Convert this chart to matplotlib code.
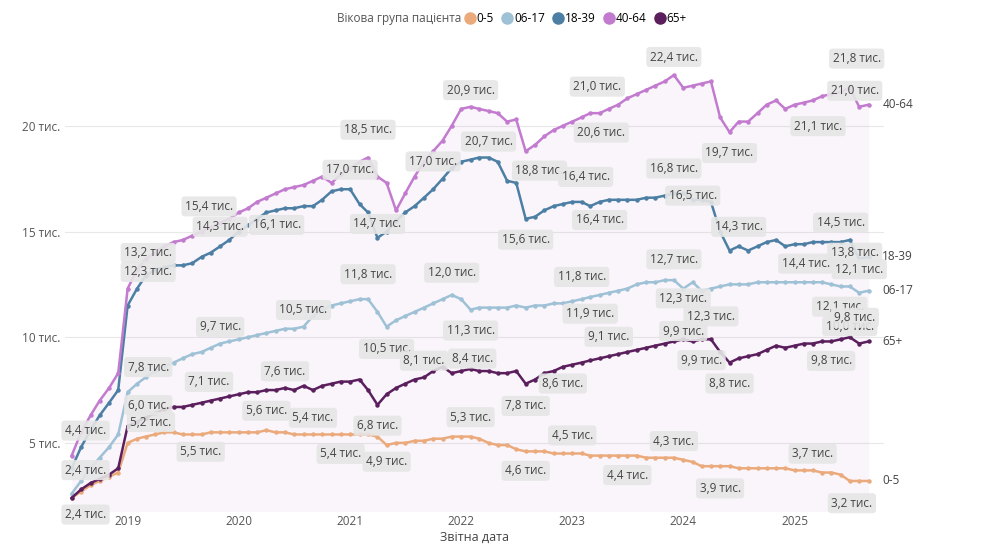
import matplotlib.pyplot as plt
import matplotlib.dates as mdates
import pandas as pd

plt.rcParams['font.family'] = ['Open Sans', 'DejaVu Sans']

months = pd.date_range('2018-07-01', '2025-09-01', freq='MS')

age_40_64 = [4.4, 5.5, 6.3, 7.0, 7.6, 8.3,
             12.3, 13.2, 13.7, 14.0, 14.3, 14.5, 14.6, 14.8, 15.0, 15.2, 15.4, 15.6,
             15.9, 16.1, 16.4, 16.6, 16.8, 17.0, 17.1, 17.2, 17.4, 17.6, 17.3, 17.7,
             18.0, 18.3, 18.5, 17.6, 17.3, 16.0, 16.8, 17.6, 18.3, 18.8, 19.3, 20.0,
             20.8, 20.9, 20.8, 20.7, 20.6, 20.2, 20.3, 18.8, 19.1, 19.5, 19.8, 20.0,
             20.2, 20.4, 20.6, 20.6, 20.8, 21.0, 21.3, 21.5, 21.7, 21.9, 22.1, 22.4,
             21.8, 21.9, 22.0, 22.1, 20.4, 19.7, 20.2, 20.2, 20.6, 21.0, 21.2, 20.8,
             21.0, 21.1, 21.2, 21.4, 21.5, 21.6, 21.8, 20.9, 21.0]
age_18_39 = [3.8, 4.8, 5.6, 6.3, 6.9, 7.5,
             11.5, 12.3, 12.9, 13.2, 13.3, 13.4, 13.4, 13.5, 13.8, 14.0, 14.3, 14.6,
             15.0, 15.3, 15.6, 15.9, 16.0, 16.1, 16.1, 16.2, 16.2, 16.5, 16.9, 17.0,
             17.0, 16.3, 15.9, 14.7, 15.0, 15.5, 15.9, 16.2, 16.6, 17.0, 17.5, 18.0,
             18.3, 18.4, 18.5, 18.5, 18.3, 17.4, 17.3, 15.6, 15.7, 16.0, 16.2, 16.3,
             16.4, 16.4, 16.2, 16.4, 16.5, 16.5, 16.5, 16.5, 16.6, 16.6, 16.7, 16.8,
             16.8, 16.5, 16.5, 16.4, 15.0, 14.1, 14.3, 14.1, 14.3, 14.5, 14.6, 14.3,
             14.4, 14.4, 14.5, 14.5, 14.5, 14.5, 14.6, 13.7, 13.8]
age_06_17 = [2.6, 3.2, 3.8, 4.3, 4.8, 5.4,
             7.4, 7.8, 8.1, 8.4, 8.6, 8.8, 9.0, 9.2, 9.3, 9.5, 9.7, 9.8,
             9.9, 10.0, 10.1, 10.2, 10.3, 10.4, 10.4, 10.5, 11.0, 11.3, 11.5, 11.6,
             11.7, 11.8, 11.8, 11.2, 10.5, 10.8, 11.0, 11.2, 11.4, 11.6, 11.8, 12.0,
             11.8, 11.3, 11.4, 11.4, 11.4, 11.4, 11.5, 11.4, 11.5, 11.5, 11.6, 11.6,
             11.7, 11.8, 11.9, 12.0, 12.1, 12.2, 12.3, 12.5, 12.6, 12.6, 12.7, 12.7,
             12.3, 12.6, 12.2, 12.3, 12.4, 12.5, 12.5, 12.5, 12.6, 12.6, 12.6, 12.6,
             12.6, 12.6, 12.6, 12.6, 12.5, 12.4, 12.4, 12.1, 12.2]
age_65 = [2.4, 2.8, 3.1, 3.3, 3.5, 3.8,
          5.8, 6.0, 6.2, 6.4, 6.6, 6.7, 6.7, 6.8, 6.9, 7.0, 7.1, 7.2,
          7.3, 7.4, 7.4, 7.5, 7.5, 7.6, 7.5, 7.7, 7.5, 7.7, 7.8, 7.9,
          7.9, 8.0, 7.5, 6.8, 7.3, 7.6, 7.8, 8.0, 8.1, 8.4, 8.6, 8.3,
          8.4, 8.5, 8.4, 8.4, 8.3, 8.3, 8.4, 7.8, 8.0, 8.3, 8.4, 8.6,
          8.7, 8.8, 8.9, 9.0, 9.1, 9.2, 9.3, 9.4, 9.5, 9.6, 9.7, 9.8,
          9.9, 9.8, 9.9, 9.9, 9.3, 8.8, 9.0, 9.1, 9.2, 9.4, 9.6, 9.5,
          9.6, 9.7, 9.7, 9.8, 9.8, 9.9, 10.0, 9.7, 9.8]
age_0_5 = [2.4, 2.7, 3.0, 3.2, 3.4, 3.6,
           5.0, 5.2, 5.3, 5.4, 5.5, 5.5, 5.4, 5.4, 5.4, 5.5, 5.5, 5.5,
           5.5, 5.5, 5.5, 5.6, 5.5, 5.5, 5.4, 5.4, 5.4, 5.4, 5.4, 5.4,
           5.4, 5.4, 5.4, 5.3, 4.9, 5.0, 5.0, 5.1, 5.1, 5.2, 5.2, 5.3,
           5.3, 5.3, 5.2, 5.0, 4.9, 4.9, 4.7, 4.6, 4.6, 4.6, 4.5, 4.5,
           4.5, 4.5, 4.4, 4.4, 4.4, 4.4, 4.4, 4.4, 4.3, 4.3, 4.3, 4.3,
           4.2, 4.1, 3.9, 3.9, 3.9, 3.9, 3.8, 3.8, 3.8, 3.8, 3.8, 3.8,
           3.7, 3.7, 3.7, 3.6, 3.6, 3.5, 3.2, 3.2, 3.2]

series = {'0-5': age_0_5, '06-17': age_06_17, '18-39': age_18_39,
          '40-64': age_40_64, '65+': age_65}
colors = {'0-5': '#EBAA7C', '06-17': '#9EC1D6', '18-39': '#4C7FA3',
          '40-64': '#C27BCF', '65+': '#5A1F5C'}

# data labels: (series, month index, offset in points)
labels = [
    ('40-64', 0, (10, 18)), ('40-64', 7, (8, 12)), ('40-64', 16, (-8, 12)),
    ('40-64', 32, (0, 20)), ('40-64', 43, (0, 12)), ('40-64', 45, (0, -22)),
    ('40-64', 49, (10, -14)), ('40-64', 59, (-15, 13)), ('40-64', 56, (8, -14)),
    ('40-64', 65, (0, 13)), ('40-64', 71, (0, -15)), ('40-64', 79, (10, -17)),
    ('40-64', 84, (5, 21)), ('40-64', 86, (-10, 10)),
    ('18-39', 7, (8, 12)), ('18-39', 16, (0, 14)), ('18-39', 23, (-6, -12)),
    ('18-39', 30, (0, 14)), ('18-39', 33, (0, 10)), ('18-39', 39, (0, 20)),
    ('18-39', 49, (0, -15)), ('18-39', 57, (0, -13)), ('18-39', 57, (-10, 18)),
    ('18-39', 65, (0, 18)), ('18-39', 67, (0, 3)), ('18-39', 72, (0, 14)),
    ('18-39', 78, (8, -14)), ('18-39', 83, (0, 14)), ('18-39', 86, (-10, 3)),
    ('06-17', 7, (8, 12)), ('06-17', 16, (0, 12)), ('06-17', 25, (0, 12)),
    ('06-17', 32, (0, 18)), ('06-17', 34, (0, -16)), ('06-17', 41, (0, 16)),
    ('06-17', 43, (0, -15)), ('06-17', 55, (0, 16)), ('06-17', 56, (0, -12)),
    ('06-17', 65, (0, 15)), ('06-17', 66, (0, -7)), ('06-17', 69, (0, -20)),
    ('06-17', 85, (-14, -10)), ('06-17', 85, (0, 17)),
    ('65+', 0, (10, 20)), ('65+', 7, (8, 12)), ('65+', 16, (-8, 12)),
    ('65+', 23, (0, 12)), ('65+', 33, (0, -15)), ('65+', 38, (0, 12)),
    ('65+', 42, (8, 9)), ('65+', 49, (0, -16)), ('65+', 53, (0, -12)),
    ('65+', 58, (0, 14)), ('65+', 66, (0, 6)), ('65+', 68, (0, -15)),
    ('65+', 71, (0, -15)), ('65+', 82, (0, -14)), ('65+', 84, (0, 8)),
    ('65+', 86, (-10, 17)),
    ('0-5', 0, (10, -12)), ('0-5', 7, (10, 12)), ('0-5', 16, (-14, -14)),
    ('0-5', 21, (0, 14)), ('0-5', 26, (0, 12)), ('0-5', 29, (0, -14)),
    ('0-5', 34, (0, -12)), ('0-5', 43, (0, 14)), ('0-5', 49, (0, -14)),
    ('0-5', 54, (0, 13)), ('0-5', 60, (0, -14)), ('0-5', 65, (0, 12)),
    ('0-5', 70, (0, -16)), ('0-5', 80, (0, 12)), ('0-5', 86, (-12, -16)),
]

fig = plt.figure(figsize=(10.04, 5.58), dpi=100)
ax = fig.add_axes([0.065, 0.085, 0.815, 0.86])

ax.fill_between(months, age_40_64, 0, color='#C27BCF', alpha=0.07, lw=0)
for name, vals in series.items():
    ax.plot(months, vals, color=colors[name], lw=1.8, marker='o', ms=2.2, zorder=3)
    ax.text(months[-1] + pd.Timedelta(days=45), vals[-1], name, fontsize=8.5,
            color='#444444', va='center', ha='left', clip_on=False)

for name, idx, off in labels:
    v = series[name][idx]
    txt = f'{v:.1f}'.replace('.', ',') + ' тис.'
    ax.annotate(txt, (months[idx], v), xytext=off, textcoords='offset points',
                ha='center', va='center', fontsize=8.5, color='#444444', zorder=5,
                bbox=dict(boxstyle='round,pad=0.3', fc='#E6E6E6', ec='none', alpha=0.9))

ax.set_ylim(1.8, 24.5)
ax.set_xlim(pd.Timestamp('2018-06-10'), pd.Timestamp('2025-10-20'))
ax.set_yticks([5, 10, 15, 20])
ax.set_yticklabels(['5 тис.', '10 тис.', '15 тис.', '20 тис.'])
ax.yaxis.grid(True, color='#E8E8E8', lw=0.8)
ax.set_axisbelow(True)
ax.xaxis.set_major_locator(mdates.YearLocator())
ax.xaxis.set_major_formatter(mdates.DateFormatter('%Y'))
ax.tick_params(length=0, labelsize=8.5, labelcolor='#555555')
for s in ax.spines.values():
    s.set_visible(False)
ax.set_xlabel('Звітна дата', fontsize=9, color='#444444', labelpad=2)

# legend: title as text, entries to its right
fig.text(0.46, 0.967, 'Вікова група пацієнта', ha='right', va='center',
         fontsize=8.5, color='#555555')
handles = [plt.Line2D([], [], ls='none', marker='o', ms=8, color=colors[n]) for n in series]
fig.legend(handles, list(series.keys()), loc='center left', bbox_to_anchor=(0.462, 0.967),
           ncol=5, frameon=False, fontsize=8.5, handletextpad=0.1, columnspacing=0.6,
           handlelength=1.0, borderaxespad=0, borderpad=0)

fig.savefig('out.png', dpi=100, facecolor='white')
